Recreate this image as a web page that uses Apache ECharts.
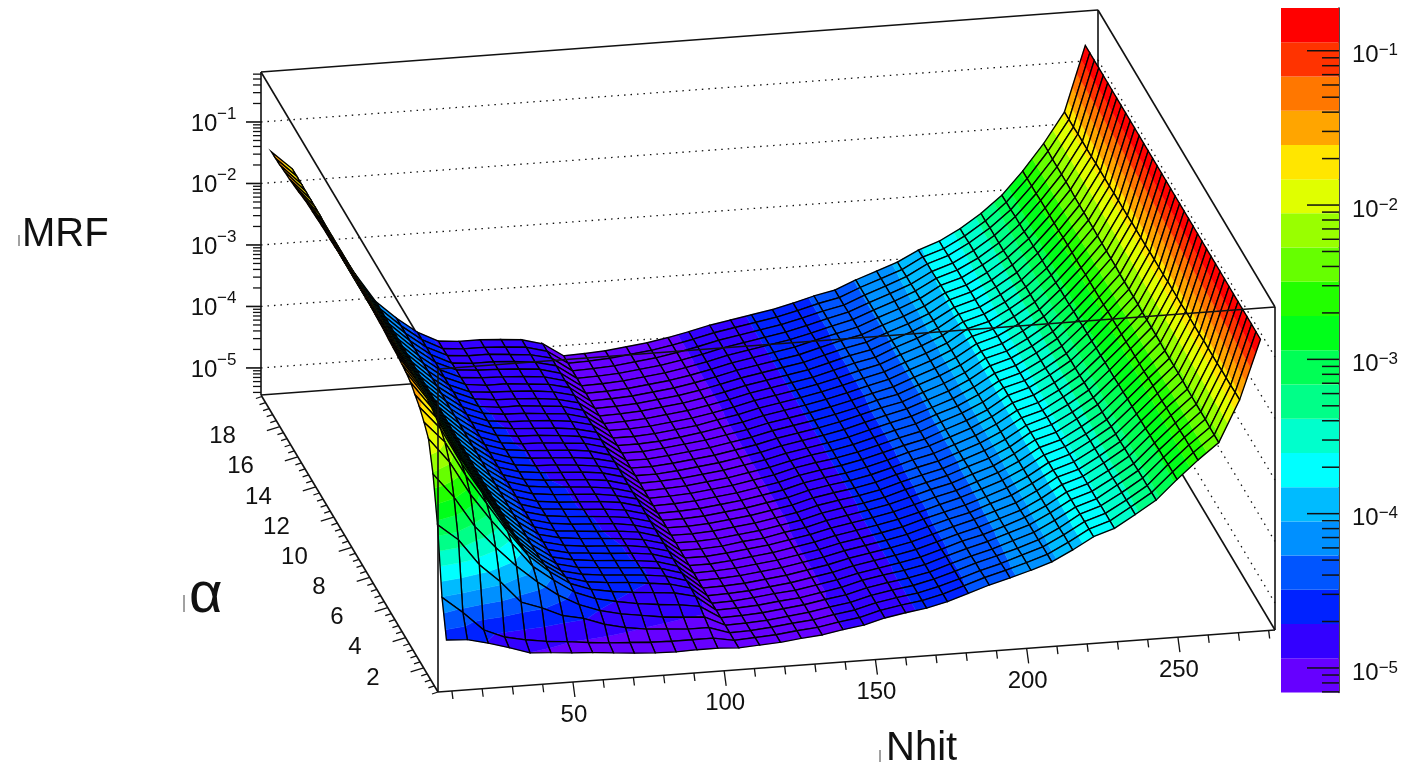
<!DOCTYPE html>
<html>
<head>
<meta charset="utf-8">
<title>MRF surface</title>
<style>html,body{margin:0;background:#fff}#chart{width:1406px;height:769px}</style>
<script src="https://cdn.jsdelivr.net/npm/echarts@6/dist/echarts.min.js"></script>
</head>
<body>
<div id="chart"></div>
<script>
var nhitValues = [8.5,15.4,22.3,29.2,36.1,43,49.9,56.8,63.7,70.6,77.5,84.4,91.3,98.2,105.1,112,118.9,125.8,132.7,139.6,146.5,153.4,160.3,167.2,174.1,181,187.9,194.8,201.7,208.6,215.5,222.4,229.3,236.2,243.1,250,256.9,263.8,270.7,277.6];
var alphaValues = [0.5,1,1.5,2,2.5,3,3.5,4,4.5,5,5.5,6,6.5,7,7.5,8,8.5,9,9.5,10,10.5,11,11.5,12,12.5,13,13.5,14,14.5,15,15.5,16,16.5,17,17.5,18,18.5,19,19.5,20];
// log10(MRF) x 100, one line per Nhit value, alpha going up
var logMrf = [
[-463,-406,-300,-230,-185,-170,-158,-150,-142,-138,-136,-134,-133,-132,-130,-129,-128,-127,-126,-126,-125,-126,-126,-127,-127,-128,-129,-129,-130,-131,-132,-133,-135,-138,-140,-142,-143,-145,-146,-147],
[-465,-433,-327,-270,-225,-205,-195,-189,-185,-183,-182,-181,-181,-180,-180,-180,-180,-179,-179,-179,-179,-179,-179,-179,-178,-178,-178,-178,-178,-178,-178,-178,-178,-177,-177,-177,-177,-177,-177,-177],
[-473,-464,-370,-320,-280,-262,-254,-250,-248,-247,-247,-247,-247,-247,-247,-247,-247,-247,-247,-247,-246,-246,-246,-246,-246,-246,-246,-246,-246,-246,-246,-246,-246,-246,-246,-246,-246,-246,-246,-246],
[-483,-478,-400,-357,-325,-310,-305,-303,-302,-301,-301,-301,-301,-301,-301,-301,-301,-300,-300,-300,-300,-300,-300,-300,-300,-300,-300,-300,-300,-300,-300,-300,-300,-300,-300,-300,-300,-300,-300,-300],
[-494,-485,-436,-390,-365,-358,-356,-355,-355,-355,-355,-355,-355,-355,-355,-355,-355,-355,-355,-355,-355,-355,-355,-355,-355,-355,-355,-355,-355,-355,-355,-355,-355,-355,-355,-355,-355,-355,-355,-355],
[-496,-490,-448,-418,-405,-400,-401,-402,-403,-403,-403,-403,-403,-403,-403,-403,-403,-403,-403,-403,-403,-403,-403,-403,-403,-403,-403,-403,-403,-403,-403,-403,-403,-403,-403,-403,-403,-403,-403,-403],
[-499,-493,-463,-442,-430,-428,-430,-432,-433,-433,-433,-433,-433,-433,-433,-433,-433,-433,-433,-433,-433,-433,-433,-433,-433,-433,-433,-433,-433,-433,-433,-433,-433,-433,-433,-433,-433,-433,-433,-433],
[-501,-497,-470,-460,-452,-450,-452,-454,-455,-456,-456,-456,-456,-456,-456,-456,-456,-456,-456,-456,-457,-457,-457,-457,-457,-457,-457,-457,-457,-457,-457,-457,-458,-458,-458,-458,-458,-458,-458,-458],
[-504,-500,-482,-472,-465,-462,-462,-462,-463,-463,-464,-464,-464,-465,-465,-465,-466,-466,-466,-466,-467,-467,-468,-468,-468,-469,-469,-469,-470,-470,-471,-471,-472,-472,-473,-473,-474,-474,-475,-475],
[-507,-502,-490,-480,-472,-468,-466,-466,-466,-467,-467,-468,-468,-468,-469,-469,-469,-470,-470,-470,-471,-471,-472,-472,-472,-473,-473,-473,-474,-474,-475,-475,-475,-476,-476,-476,-477,-477,-478,-478],
[-509,-504,-495,-485,-478,-472,-468,-468,-469,-469,-470,-470,-470,-471,-471,-471,-472,-472,-472,-472,-473,-473,-473,-474,-474,-474,-474,-475,-475,-475,-475,-476,-476,-476,-477,-477,-477,-477,-478,-478],
[-510,-505,-497,-490,-482,-475,-472,-471,-471,-472,-472,-472,-473,-473,-473,-474,-474,-474,-474,-475,-475,-475,-476,-476,-476,-477,-477,-477,-477,-478,-478,-478,-478,-479,-479,-479,-479,-480,-480,-480],
[-509,-505,-500,-493,-485,-478,-476,-475,-475,-476,-476,-477,-477,-477,-478,-478,-478,-478,-479,-479,-479,-479,-480,-480,-480,-480,-481,-481,-481,-481,-481,-482,-482,-482,-482,-482,-483,-483,-483,-483],
[-509,-505,-500,-495,-490,-486,-485,-485,-485,-486,-486,-486,-486,-487,-487,-487,-487,-487,-487,-488,-488,-488,-488,-488,-489,-489,-489,-489,-489,-490,-490,-490,-490,-490,-491,-491,-491,-491,-492,-492],
[-511,-511,-511,-511,-511,-511,-512,-512,-512,-512,-512,-512,-512,-512,-512,-512,-512,-512,-513,-513,-513,-513,-513,-513,-513,-513,-513,-513,-513,-513,-514,-514,-514,-514,-514,-514,-514,-514,-514,-514],
[-509,-509,-510,-510,-510,-510,-511,-511,-511,-511,-511,-512,-512,-512,-512,-512,-512,-512,-512,-512,-512,-512,-512,-513,-513,-513,-513,-513,-513,-513,-513,-513,-513,-513,-513,-513,-513,-513,-513,-513],
[-507,-507,-507,-508,-508,-508,-508,-509,-509,-509,-509,-509,-509,-510,-510,-510,-510,-510,-510,-510,-510,-510,-510,-510,-510,-510,-510,-511,-511,-511,-511,-511,-511,-511,-511,-511,-511,-511,-511,-511],
[-503,-503,-503,-504,-504,-504,-504,-505,-505,-505,-505,-505,-505,-505,-506,-506,-506,-506,-506,-506,-506,-506,-506,-506,-506,-506,-506,-507,-507,-507,-507,-507,-507,-507,-507,-507,-507,-507,-507,-507],
[-500,-500,-500,-500,-500,-501,-501,-501,-501,-501,-501,-501,-501,-502,-502,-502,-502,-502,-502,-502,-502,-502,-502,-502,-502,-502,-502,-502,-503,-503,-503,-503,-503,-503,-503,-503,-503,-503,-503,-503],
[-494,-494,-494,-494,-494,-495,-495,-495,-495,-495,-495,-495,-495,-495,-496,-496,-496,-496,-496,-496,-496,-496,-496,-496,-496,-496,-496,-496,-496,-497,-497,-497,-497,-497,-497,-497,-497,-497,-497,-497],
[-489,-489,-489,-489,-489,-489,-489,-489,-489,-489,-489,-489,-489,-490,-490,-490,-490,-490,-490,-490,-490,-490,-490,-490,-490,-490,-490,-490,-490,-490,-490,-490,-490,-490,-490,-490,-490,-490,-490,-490],
[-480,-480,-480,-480,-480,-480,-481,-481,-481,-481,-481,-481,-481,-481,-481,-481,-481,-481,-481,-481,-481,-482,-482,-482,-482,-482,-482,-482,-482,-482,-482,-482,-482,-482,-482,-482,-482,-482,-482,-482],
[-474,-474,-474,-474,-474,-474,-475,-475,-475,-475,-475,-475,-475,-475,-475,-475,-475,-475,-475,-475,-475,-475,-476,-476,-476,-476,-476,-476,-476,-476,-476,-476,-476,-476,-476,-476,-476,-476,-476,-476],
[-469,-469,-469,-469,-469,-469,-469,-469,-469,-469,-469,-469,-469,-469,-470,-470,-470,-470,-470,-470,-470,-470,-470,-470,-470,-470,-470,-470,-470,-470,-470,-470,-470,-470,-470,-470,-470,-470,-470,-470],
[-461,-461,-461,-461,-462,-462,-462,-462,-462,-462,-462,-462,-462,-462,-463,-463,-463,-463,-463,-463,-463,-463,-463,-463,-463,-463,-463,-463,-463,-463,-464,-464,-464,-464,-464,-464,-464,-464,-464,-464],
[-450,-450,-451,-451,-451,-451,-452,-452,-452,-452,-452,-453,-453,-453,-453,-453,-453,-454,-454,-454,-454,-454,-454,-454,-454,-455,-455,-455,-455,-455,-455,-455,-455,-455,-455,-456,-456,-456,-456,-456],
[-439,-439,-440,-440,-441,-441,-441,-442,-442,-442,-443,-443,-443,-443,-444,-444,-444,-444,-444,-445,-445,-445,-445,-445,-445,-445,-446,-446,-446,-446,-446,-446,-446,-446,-447,-447,-447,-447,-447,-447],
[-430,-430,-431,-431,-432,-432,-433,-433,-433,-434,-434,-434,-435,-435,-435,-436,-436,-436,-436,-437,-437,-437,-437,-437,-438,-438,-438,-438,-438,-438,-439,-439,-439,-439,-439,-439,-439,-440,-440,-440],
[-420,-420,-420,-421,-421,-421,-422,-422,-422,-422,-423,-423,-423,-423,-423,-424,-424,-424,-424,-424,-424,-424,-425,-425,-425,-425,-425,-425,-425,-425,-425,-426,-426,-426,-426,-426,-426,-426,-426,-426],
[-409,-409,-409,-410,-410,-410,-410,-411,-411,-411,-411,-411,-411,-412,-412,-412,-412,-412,-412,-412,-412,-413,-413,-413,-413,-413,-413,-413,-413,-413,-413,-414,-414,-414,-414,-414,-414,-414,-414,-414],
[-392,-392,-392,-393,-393,-393,-394,-394,-394,-394,-395,-395,-395,-395,-396,-396,-396,-396,-396,-397,-397,-397,-397,-397,-398,-398,-398,-398,-399,-399,-399,-399,-400,-400,-400,-400,-401,-401,-402,-402],
[-373,-373,-373,-373,-374,-374,-374,-374,-374,-375,-375,-375,-375,-375,-375,-376,-376,-376,-376,-376,-376,-377,-377,-377,-377,-378,-378,-378,-378,-379,-379,-380,-380,-381,-381,-382,-383,-383,-384,-385],
[-362,-362,-362,-362,-363,-363,-363,-363,-364,-364,-364,-364,-365,-365,-365,-365,-366,-366,-366,-366,-367,-367,-367,-367,-368,-368,-368,-369,-369,-369,-370,-370,-370,-371,-371,-371,-372,-372,-373,-373],
[-342,-342,-343,-343,-343,-344,-344,-344,-345,-345,-345,-346,-346,-346,-347,-347,-347,-348,-348,-348,-349,-349,-349,-350,-350,-350,-351,-351,-351,-352,-352,-352,-353,-353,-353,-354,-354,-354,-355,-355],
[-321,-321,-322,-322,-322,-323,-323,-323,-324,-324,-324,-325,-325,-325,-326,-326,-326,-327,-327,-327,-328,-328,-328,-329,-329,-329,-330,-330,-330,-330,-331,-331,-331,-331,-332,-332,-332,-332,-333,-333],
[-290,-290,-290,-291,-291,-292,-292,-293,-293,-294,-294,-294,-295,-295,-296,-296,-296,-297,-297,-298,-298,-298,-299,-299,-300,-300,-300,-301,-301,-302,-302,-302,-303,-303,-304,-304,-304,-305,-305,-306],
[-261,-261,-261,-261,-262,-262,-262,-262,-263,-263,-263,-263,-264,-264,-264,-264,-265,-265,-265,-265,-265,-266,-266,-266,-266,-266,-267,-267,-267,-267,-267,-268,-268,-268,-268,-268,-269,-269,-269,-269],
[-235,-235,-235,-234,-234,-234,-234,-234,-233,-233,-233,-233,-233,-232,-232,-232,-232,-232,-231,-231,-231,-231,-231,-230,-230,-230,-230,-230,-229,-229,-229,-229,-229,-228,-228,-228,-228,-228,-227,-227],
[-168,-168,-169,-169,-169,-170,-170,-170,-170,-171,-171,-171,-171,-172,-172,-172,-172,-173,-173,-173,-173,-174,-174,-174,-174,-175,-175,-175,-175,-176,-176,-176,-176,-177,-177,-177,-177,-178,-178,-178],
[-72,-72,-72,-72,-72,-72,-72,-72,-72,-72,-72,-72,-72,-72,-72,-72,-72,-72,-72,-72,-72,-72,-72,-72,-72,-72,-72,-72,-72,-72,-72,-72,-72,-72,-72,-72,-72,-72,-72,-72]
];
var nhitTicks = [10,20,30,40,50,60,70,80,90,100,110,120,130,140,150,160,170,180,190,200,210,220,230,240,250,260,270,280];
var nhitLabels = [50,100,150,200,250];
var alphaTicks = [0.4,0.8,1.2,1.6,2,2.4,2.8,3.2,3.6,4,4.4,4.8,5.2,5.6,6,6.4,6.8,7.2,7.6,8,8.4,8.8,9.2,9.6,10,10.4,10.8,11.2,11.6,12,12.4,12.8,13.2,13.6,14,14.4,14.8,15.2,15.6,16,16.4,16.8,17.2,17.6,18,18.4,18.8,19.2,19.6,20];
var alphaLabels = [2,4,6,8,10,12,14,16,18];
var decades = [-5,-4,-3,-2,-1];
var subDecades = [2,3,4,5,6,7,8,9];
// rainbow bands of the palette, bottom one first
var bandColors = ['#6600ff','#3300ff','#0022ff','#0055ff','#0090ff','#00bbff','#00ffff','#00ffcc','#00ff88','#00ff55','#00ff1a','#22ff00','#66ff00','#99ff00','#e0ff00','#ffe600','#ffa500','#ff7700','#ff3300','#ff0000'];
var barLogMin = -5.159, barLogMax = -0.723;

var nhitMin = 5.4, nhitMax = 282.1, alphaMin = 0.4, alphaMax = 20.1, logMin = -5.44, logMax = -0.187;
var bandStep = (barLogMax - barLogMin) / bandColors.length;

/*3D box projection, ROOT style parallel view*/
function project(n, a, l) {
  var u = (n - nhitMin) / (nhitMax - nhitMin);
  var v = (a - alphaMin) / (alphaMax - alphaMin);
  var w = (l - logMin) / (logMax - logMin);
  return [438 + 837 * u - 177 * v, 692 - 62 * u - 297 * v - 323 * w];
}
function seg(p, q, width, dash) {
  return {
    type: 'line', silent: true,
    shape: {x1: p[0], y1: p[1], x2: q[0], y2: q[1]},
    style: {stroke: '#111', lineWidth: width || 1.6, lineDash: dash || null, fill: null}
  };
}
function label(text, x, y, size, align) {
  return {
    type: 'text', silent: true,
    style: {text: text, x: x, y: y, fill: '#111', font: size + 'px "Liberation Sans"', align: align || 'center', verticalAlign: 'middle'}
  };
}
function logTicks() {
  var list = [];
  decades.concat([-6, 0]).forEach(function (d) {
    subDecades.forEach(function (m) {
      list.push(d + Math.log10(m));
    });
  });
  return list;
}

function backFrame() {
  var c = [];
  var b00 = project(nhitMin, alphaMin, logMin), b10 = project(nhitMax, alphaMin, logMin),
    b01 = project(nhitMin, alphaMax, logMin), b11 = project(nhitMax, alphaMax, logMin),
    t00 = project(nhitMin, alphaMin, logMax), t10 = project(nhitMax, alphaMin, logMax),
    t01 = project(nhitMin, alphaMax, logMax), t11 = project(nhitMax, alphaMax, logMax);
  c.push(seg(b01, b11), seg(b11, b10), seg(b00, b01), seg(b00, b10));
  c.push(seg(b01, t01), seg(b11, t11), seg(t01, t11), seg(t01, t00), seg(t11, t10), seg(b10, t10));
  decades.forEach(function (d) {
    var p = project(nhitMin, alphaMax, d), q = project(nhitMax, alphaMax, d), r = project(nhitMax, alphaMin, d);
    c.push(seg(p, q, 1.3, [1.5, 5]), seg(q, r, 1.3, [1.5, 5]));
    c.push(seg(p, [p[0] - 15, p[1]]));
    c.push(label('10', p[0] - 57, p[1] + 2, 24));
    c.push(label('\u2212' + (-d), p[0] - 44, p[1] - 8, 17, 'left'));
  });
  logTicks().forEach(function (l) {
    if (l < logMin || l > logMax) return;
    var p = project(nhitMin, alphaMax, l);
    c.push(seg(p, [p[0] - 8, p[1]], 1.3));
  });
  nhitTicks.forEach(function (n) {
    var p = project(n, alphaMin, logMin);
    var major = nhitLabels.indexOf(n) >= 0;
    c.push(seg(p, [p[0] + (major ? 2 : 1), p[1] + (major ? 15 : 8)], 1.3));
  });
  nhitLabels.forEach(function (n) {
    var p = project(n, alphaMin, logMin);
    c.push(label(String(n), p[0] + 1, p[1] + 33, 24));
  });
  alphaTicks.forEach(function (a) {
    var p = project(nhitMin, a, logMin);
    var major = alphaLabels.indexOf(a) >= 0;
    c.push(seg(p, [p[0] - (major ? 13 : 6), p[1] + (major ? 4 : 2)], 1.3));
  });
  alphaLabels.forEach(function (a) {
    var p = project(nhitMin, a, logMin);
    c.push(label(String(a), p[0] - 44, p[1] + 10, 24, 'right'));
  });
  return c;
}

function frontFrame() {
  var b00 = project(nhitMin, alphaMin, logMin), t00 = project(nhitMin, alphaMin, logMax), t10 = project(nhitMax, alphaMin, logMax);
  return [seg(b00, t00), seg(t00, t10)];
}

/*cut one cell along a colour level, keeps the part on one side*/
function clip(poly, level, keepAbove) {
  var out = [];
  for (var i = 0; i < poly.length; i++) {
    var p = poly[i], q = poly[(i + 1) % poly.length];
    var pin = keepAbove ? p[2] >= level : p[2] <= level;
    var qin = keepAbove ? q[2] >= level : q[2] <= level;
    if (pin) out.push(p);
    if (pin !== qin) {
      var f = (level - p[2]) / (q[2] - p[2]);
      out.push([p[0] + f * (q[0] - p[0]), p[1] + f * (q[1] - p[1]), level]);
    }
  }
  return out;
}
function corner(i, j) {
  var l = logMrf[i][j] / 100;
  var p = project(nhitValues[i], alphaValues[j], l);
  return [p[0], p[1], l];
}
function renderCell(params, api) {
  var i = api.value(0), j = api.value(1);
  var poly = [corner(i, j), corner(i + 1, j), corner(i + 1, j + 1), corner(i, j + 1)];
  var children = [];
  bandColors.forEach(function (color, k) {
    var part = poly;
    if (k > 0) part = clip(part, barLogMin + k * bandStep, true);
    if (part.length > 2 && k < bandColors.length - 1) part = clip(part, barLogMin + (k + 1) * bandStep, false);
    if (part.length > 2) {
      children.push({
        type: 'polygon', silent: true,
        shape: {points: part.map(function (p) { return [p[0], p[1]]; })},
        style: {fill: color, stroke: color, lineWidth: 0.4}
      });
    }
  });
  children.push({
    type: 'polygon', silent: true,
    shape: {points: poly.map(function (p) { return [p[0], p[1]]; })},
    style: {fill: null, stroke: '#000', lineWidth: 1.35}
  });
  return {type: 'group', children: children};
}
// far cells first so the near ones paint over them
var cells = [];
for (var i = nhitValues.length - 2; i >= 0; i--) {
  for (var j = alphaValues.length - 2; j >= 0; j--) {
    cells.push([i, j]);
  }
}

var bandData = bandColors.map(function (c, k) {
  return [0, Math.pow(10, barLogMin + k * bandStep), Math.pow(10, barLogMin + (k + 1) * bandStep), k];
});
var barTicks = [];
decades.forEach(function (d) { barTicks.push([1, Math.pow(10, d), 32]); });
logTicks().forEach(function (l) {
  if (l > barLogMin && l < barLogMax) barTicks.push([1, Math.pow(10, l), 17]);
});

var chart = echarts.init(document.getElementById('chart'), null, {renderer: 'canvas'});
var titleBars = [[19, 235, 246], [184, 595, 612], [880, 750, 762]];
chart.setOption({
  animation: false,
  backgroundColor: '#fff',
  tooltip: {show: false},
  grid: {left: 1281, top: 8, width: 58, height: 684.5},
  xAxis: {type: 'value', min: 0, max: 1, show: false},
  yAxis: {
    type: 'log', logBase: 10, position: 'right',
    min: Math.pow(10, barLogMin), max: Math.pow(10, barLogMax),
    splitLine: {show: false}, axisTick: {show: false}, minorTick: {show: false},
    axisLine: {show: true, onZero: false, lineStyle: {color: '#111', width: 1.5}},
    axisLabel: {
      margin: 13, color: '#111', fontFamily: 'Liberation Sans', fontSize: 24,
      padding: [10, 0, 0, 0],
      showMinLabel: false, showMaxLabel: false,
      formatter: function (v) {
        var d = Math.log10(v);
        if (Math.abs(d - Math.round(d)) > 0.001) return '';
        return '10{s|\u2212' + (-Math.round(d)) + '}';
      },
      rich: {s: {fontSize: 17, fontFamily: 'Liberation Sans', color: '#111', verticalAlign: 'top', padding: [0, 0, 10, 0]}}
    }
  },
  graphic: [
    {type: 'text', silent: true, style: {text: 'MRF', x: 22, y: 235, fill: '#111', font: '40px "Liberation Sans"', verticalAlign: 'middle'}},
    {type: 'text', silent: true, style: {text: '\u03b1', x: 189, y: 596, fill: '#111', font: '58px "Liberation Sans"', verticalAlign: 'middle'}},
    {type: 'text', silent: true, style: {text: 'Nhit', x: 886, y: 749, fill: '#111', font: '40px "Liberation Sans"', verticalAlign: 'middle'}}
  ].concat(titleBars.map(function (b) {
    return {type: 'line', silent: true, shape: {x1: b[0], y1: b[1], x2: b[0], y2: b[2]}, style: {stroke: '#444', lineWidth: 1}};
  })),
  series: [
    {type: 'custom', coordinateSystem: 'none', z: 1, silent: true, clip: false, data: [[0]],
      renderItem: function () { return {type: 'group', children: backFrame()}; }},
    {type: 'custom', coordinateSystem: 'none', z: 2, silent: true, clip: false, progressive: 0, data: cells,
      renderItem: renderCell},
    {type: 'custom', coordinateSystem: 'none', z: 3, silent: true, clip: false, data: [[0]],
      renderItem: function () { return {type: 'group', children: frontFrame()}; }},
    {type: 'custom', coordinateSystem: 'cartesian2d', z: 1, silent: true, data: bandData, encode: {x: 0, y: [1, 2]},
      renderItem: function (params, api) {
        var a = api.coord([0, api.value(1)]), b = api.coord([1, api.value(2)]);
        return {type: 'rect', shape: {x: a[0], y: b[1], width: b[0] - a[0], height: a[1] - b[1]},
          style: {fill: bandColors[api.value(3)]}};
      }},
    {type: 'custom', coordinateSystem: 'cartesian2d', z: 2, silent: true, data: barTicks, encode: {x: 0, y: 1},
      renderItem: function (params, api) {
        var a = api.coord([1, api.value(1)]);
        return seg(a, [a[0] - api.value(2), a[1]], 1.5);
      }}
  ]
});
</script>
</body>
</html>
